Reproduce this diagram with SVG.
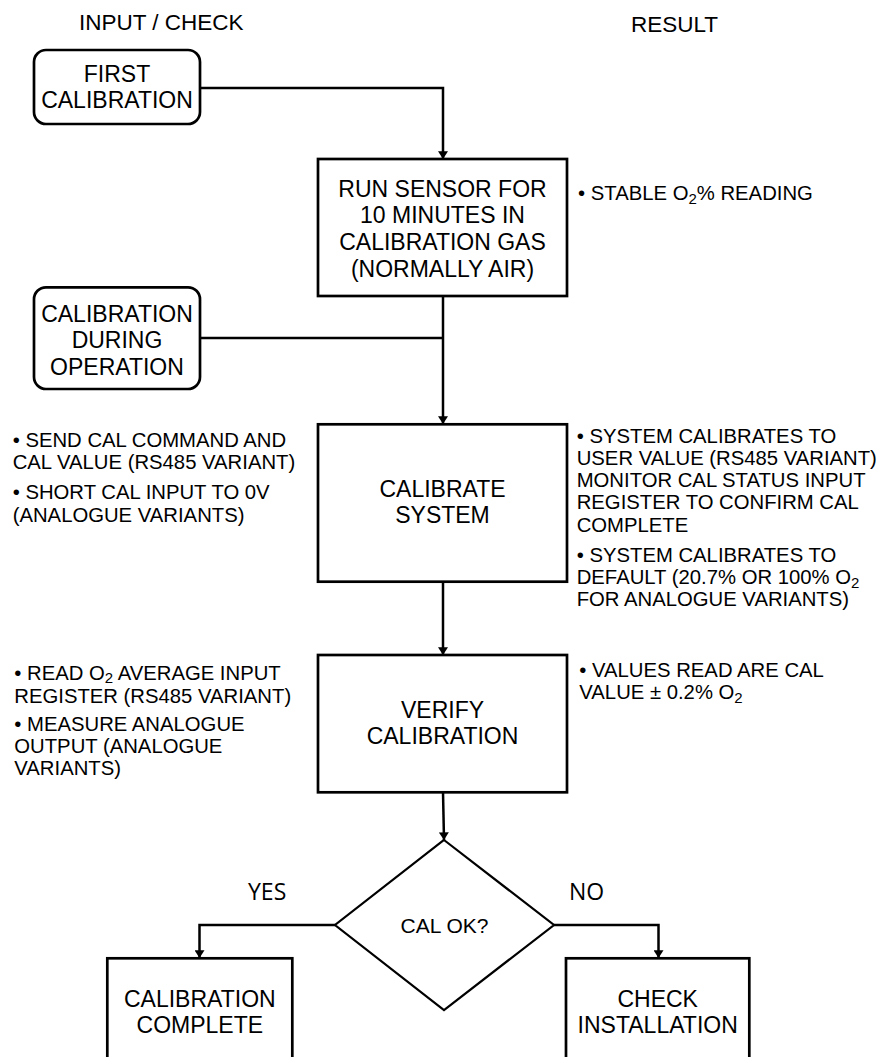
<svg xmlns="http://www.w3.org/2000/svg" width="882" height="1057" viewBox="0 0 882 1057">
<style>
text{font-family:"Liberation Sans",Arial,sans-serif;fill:#000}
.hd{font-size:22.5px}
.bx{font-size:23px;text-anchor:middle}
.nt{font-size:20.3px}
.yn{font-family:"Open Sans","Liberation Sans",sans-serif;font-size:23px}
.box{fill:#fff;stroke:#000;stroke-width:2.7}
.ln{fill:none;stroke:#000;stroke-width:2.5}
.sub{font-size:15px}
</style>
<defs>
<marker id="ad" markerUnits="userSpaceOnUse" markerWidth="13" markerHeight="10" refX="10" refY="6.5" orient="auto" viewBox="0 0 10 13">
<path d="M0,0 L10,6.5 L0,13 Z" fill="#000"/>
</marker>
</defs>
<rect width="882" height="1057" fill="#fff"/>

<g id="headers">
<text class="hd" x="79" y="30">INPUT / CHECK</text>
<text class="hd" x="631" y="32">RESULT</text>
</g>

<g id="connectors">
<path class="ln" d="M200,88 H443 V159" marker-end="url(#ad)"/>
<path class="ln" d="M443,296 V424" marker-end="url(#ad)"/>
<path class="ln" d="M200,338 H443"/>
<path class="ln" d="M443,582 V655" marker-end="url(#ad)"/>
<path class="ln" d="M443,792 L444,840" marker-end="url(#ad)"/>
<path class="ln" d="M335,925 H199.5 V958" marker-end="url(#ad)"/>
<path class="ln" d="M554,925 H658.5 V958" marker-end="url(#ad)"/>
</g>

<g id="first-calibration">
<rect class="box" x="34" y="50" width="166" height="74" rx="12"/>
<text class="bx" x="117" y="81.5">FIRST</text>
<text class="bx" x="117" y="108.3">CALIBRATION</text>
</g>

<g id="run-sensor">
<rect class="box" x="318" y="159" width="249" height="137"/>
<text class="bx" x="442.5" y="196.7">RUN SENSOR FOR</text>
<text class="bx" x="442.5" y="223.3">10 MINUTES IN</text>
<text class="bx" x="442.5" y="250">CALIBRATION GAS</text>
<text class="bx" x="442.5" y="276.7">(NORMALLY AIR)</text>
</g>

<g id="note-stable">
<text class="nt" x="578" y="200">• STABLE O<tspan class="sub" dy="4">2</tspan><tspan dy="-4">% READING</tspan></text>
</g>

<g id="calibration-during-operation">
<rect class="box" x="34" y="287.3" width="166" height="101.7" rx="12"/>
<text class="bx" x="117" y="321.7">CALIBRATION</text>
<text class="bx" x="117" y="348.3">DURING</text>
<text class="bx" x="117" y="375">OPERATION</text>
</g>

<g id="calibrate-system">
<rect class="box" x="318" y="424.3" width="249" height="157.4"/>
<text class="bx" x="442.5" y="496.7">CALIBRATE</text>
<text class="bx" x="442.5" y="523.3">SYSTEM</text>
</g>

<g id="note-calibrate-input">
<text class="nt" x="12.7" y="446.7">• SEND CAL COMMAND AND</text>
<text class="nt" x="12.7" y="469.3">CAL VALUE (RS485 VARIANT)</text>
<text class="nt" x="12.7" y="499.3">• SHORT CAL INPUT TO 0V</text>
<text class="nt" x="12.7" y="521.7">(ANALOGUE VARIANTS)</text>
</g>

<g id="note-calibrate-result">
<text class="nt" x="576.7" y="442.7">• SYSTEM CALIBRATES TO</text>
<text class="nt" x="576.7" y="465">USER VALUE (RS485 VARIANT)</text>
<text class="nt" x="576.7" y="487.3">MONITOR CAL STATUS INPUT</text>
<text class="nt" x="576.7" y="509.3">REGISTER TO CONFIRM CAL</text>
<text class="nt" x="576.7" y="531.7">COMPLETE</text>
<text class="nt" x="576.7" y="561.7">• SYSTEM CALIBRATES TO</text>
<text class="nt" x="576.7" y="584">DEFAULT (20.7% OR 100% O<tspan class="sub" dy="4">2</tspan></text>
<text class="nt" x="576.7" y="606">FOR ANALOGUE VARIANTS)</text>
</g>

<g id="verify-calibration">
<rect class="box" x="318" y="655" width="249" height="137.3"/>
<text class="bx" x="442.5" y="717.7">VERIFY</text>
<text class="bx" x="442.5" y="744.3">CALIBRATION</text>
</g>

<g id="note-verify-input">
<text class="nt" x="14.3" y="680">• READ O<tspan class="sub" dy="3">2</tspan><tspan dy="-3"> AVERAGE INPUT</tspan></text>
<text class="nt" x="14.3" y="702.5">REGISTER (RS485 VARIANT)</text>
<text class="nt" x="14.3" y="730.7">• MEASURE ANALOGUE</text>
<text class="nt" x="14.3" y="752.7">OUTPUT (ANALOGUE</text>
<text class="nt" x="14.3" y="775">VARIANTS)</text>
</g>

<g id="note-verify-result">
<text class="nt" x="579.3" y="676.7">• VALUES READ ARE CAL</text>
<text class="nt" x="579.3" y="699.3">VALUE ± 0.2% O<tspan class="sub" dy="4">2</tspan></text>
</g>

<g id="cal-ok">
<path d="M444,840 L554,925 L444,1010 L335,925 Z" fill="#fff" stroke="#000" stroke-width="2.2"/>
<text x="444.5" y="933.3" text-anchor="middle" style="font-size:21px">CAL OK?</text>
</g>

<g id="labels">
<text class="yn" x="248" y="900">YES</text>
<text class="yn" x="569" y="900">NO</text>
</g>

<g id="calibration-complete">
<rect class="box" x="107.3" y="958.3" width="185" height="120"/>
<text class="bx" x="199.8" y="1007.3">CALIBRATION</text>
<text class="bx" x="199.8" y="1033.3">COMPLETE</text>
</g>

<g id="check-installation">
<rect class="box" x="566" y="958.3" width="183.3" height="120"/>
<text class="bx" x="657.7" y="1007.3">CHECK</text>
<text class="bx" x="657.7" y="1033.3">INSTALLATION</text>
</g>
</svg>
